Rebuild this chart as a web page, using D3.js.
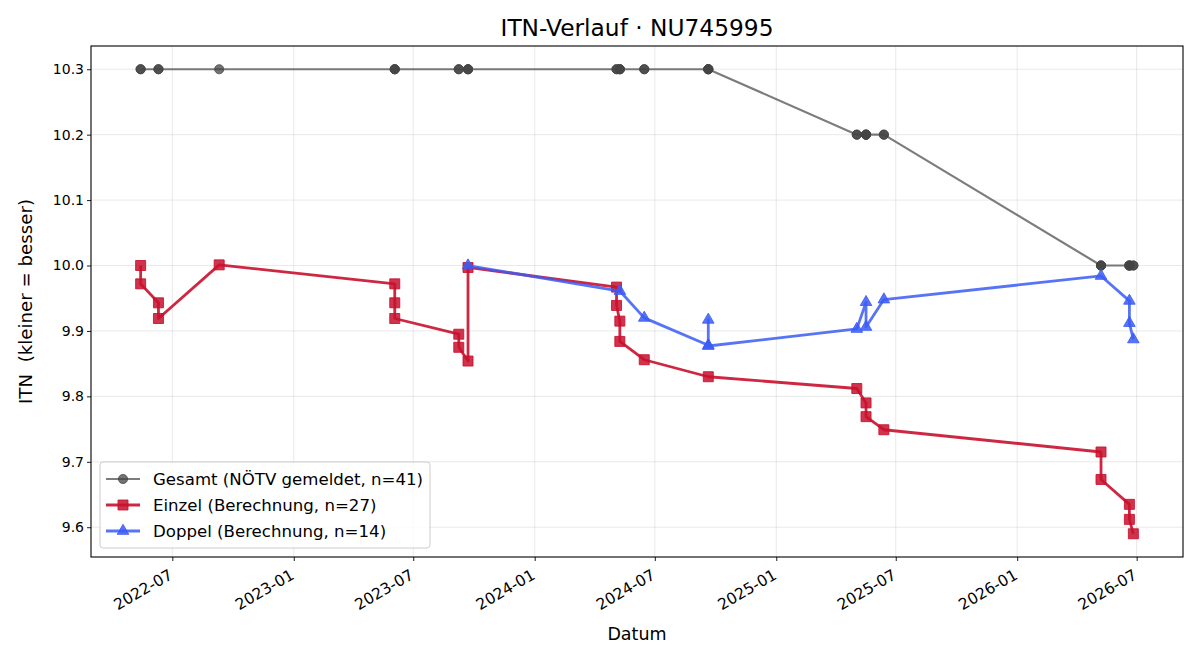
<!DOCTYPE html>
<html>
<head>
<meta charset="utf-8">
<style>
    body { margin: 0; background: #fff; }
    svg { font-family: 'DejaVu Sans', sans-serif; }
    .grid line { stroke: #b0b0b0; stroke-opacity: 0.35; stroke-width: 0.8; }
    .axis text { font-size: 14px; fill: #000; font-family: 'DejaVu Sans', sans-serif; }
    .x-axis text { font-size: 15.5px; }
</style>
</head>
<body>
<svg width="1200" height="660"></svg>

<script src="https://d3js.org/d3.v7.min.js"></script>
<script>
    // Gesamt-ITN (NÖTV gemeldet) je Datum
    let gesamtDaten = ["2022-05-14", "2022-06-10", "2022-09-10", "2023-06-03", "2023-09-08", "2023-09-22",
        "2024-05-04", "2024-05-09", "2024-06-15", "2024-09-20", "2025-05-03", "2025-05-17", "2025-06-13",
        "2026-05-08", "2026-06-20", "2026-06-26"];
    let gesamtWerte = [10.3, 10.3, 10.3, 10.3, 10.3, 10.3, 10.3, 10.3, 10.3, 10.3, 10.2, 10.2, 10.2, 10.0, 10.0, 10.0];

    // Einzel (Berechnung), ein Eintrag pro Match
    let einzelDaten = ["2022-05-14", "2022-05-14", "2022-06-10", "2022-06-10", "2022-09-10",
        "2023-06-03", "2023-06-03", "2023-06-03", "2023-09-08", "2023-09-08", "2023-09-22", "2023-09-22",
        "2024-05-04", "2024-05-04", "2024-05-09", "2024-05-09", "2024-06-15", "2024-09-20",
        "2025-05-03", "2025-05-17", "2025-05-17", "2025-06-13",
        "2026-05-08", "2026-05-08", "2026-06-20", "2026-06-20", "2026-06-26"];
    let einzelWerte = [10.0, 9.972, 9.943, 9.919, 10.001,
        9.972, 9.943, 9.919, 9.895, 9.875, 9.854, 9.997,
        9.967, 9.939, 9.915, 9.884, 9.856, 9.830,
        9.812, 9.790, 9.769, 9.749,
        9.715, 9.673, 9.635, 9.612, 9.590];

    // Doppel (Berechnung)
    let doppelDaten = ["2023-09-22", "2024-05-09", "2024-06-15", "2024-09-20", "2024-09-20", "2024-09-20",
        "2025-05-03", "2025-05-17", "2025-05-17", "2025-06-13",
        "2026-05-08", "2026-06-20", "2026-06-20", "2026-06-26"];
    let doppelWerte = [10.0, 9.961, 9.920, 9.878, 9.917, 9.877,
        9.903, 9.944, 9.906, 9.948,
        9.984, 9.946, 9.912, 9.887];

    let parse = d3.timeParse("%Y-%m-%d");

    let gesamt = gesamtDaten.map((d, i) => ({ date: parse(d), value: gesamtWerte[i] }));
    let einzel = einzelDaten.map((d, i) => ({ date: parse(d), value: einzelWerte[i] }));
    let doppel = doppelDaten.map((d, i) => ({ date: parse(d), value: doppelWerte[i] }));

    // one grey marker per match (Einzel + Doppel)
    let gesamtMap = new Map(gesamtDaten.map((d, i) => [d, gesamtWerte[i]]));
    let gesamtMarker = einzelDaten.concat(doppelDaten).map(d => ({ date: parse(d), value: gesamtMap.get(d) }));

    let margin = { left: 91, right: 17, top: 46, bottom: 103 };
    let width = 1200, height = 660;
    let svg = d3.select("svg");

    let all = gesamt.concat(einzel, doppel);
    let xExt = d3.extent(all, d => d.date);
    let xPad = (xExt[1] - xExt[0]) * 0.05;
    let x = d3.scaleTime()
        .domain([new Date(+xExt[0] - xPad), new Date(+xExt[1] + xPad)])
        .range([margin.left, width - margin.right]);

    let yExt = d3.extent(all, d => d.value);
    let yPad = (yExt[1] - yExt[0]) * 0.05;
    let y = d3.scaleLinear()
        .domain([yExt[0] - yPad, yExt[1] + yPad])
        .range([height - margin.bottom, margin.top]);

    let xTicks = d3.timeMonth.every(6).range(x.domain()[0], x.domain()[1]);
    let yTicks = [9.6, 9.7, 9.8, 9.9, 10.0, 10.1, 10.2, 10.3];

    // grid
    svg.append("g").attr("class", "grid")
        .selectAll("line").data(xTicks).join("line")
        .attr("x1", d => x(d)).attr("x2", d => x(d))
        .attr("y1", margin.top).attr("y2", height - margin.bottom);
    svg.append("g").attr("class", "grid")
        .selectAll("line").data(yTicks).join("line")
        .attr("x1", margin.left).attr("x2", width - margin.right)
        .attr("y1", d => y(d)).attr("y2", d => y(d));

    // axes
    let xAxis = svg.append("g").attr("class", "axis x-axis")
        .attr("transform", `translate(0,${height - margin.bottom})`)
        .call(d3.axisBottom(x).tickValues(xTicks).tickFormat(d3.timeFormat("%Y-%m")).tickSize(4).tickSizeOuter(0));
    xAxis.select(".domain").remove();
    xAxis.selectAll(".tick line").attr("stroke", "#000").attr("stroke-width", 0.9);
    xAxis.selectAll(".tick text")
        .attr("text-anchor", "end")
        .attr("dy", null)
        .attr("y", 0)
        .attr("transform", "translate(1,21) rotate(-30)");

    let yAxis = svg.append("g").attr("class", "axis")
        .attr("transform", `translate(${margin.left},0)`)
        .call(d3.axisLeft(y).tickValues(yTicks).tickFormat(d3.format(".1f")).tickSize(4).tickSizeOuter(0));
    yAxis.select(".domain").remove();
    yAxis.selectAll(".tick line").attr("stroke", "#000").attr("stroke-width", 0.9);
    yAxis.selectAll(".tick text").attr("x", -7);

    // frame
    svg.append("rect")
        .attr("x", margin.left).attr("y", margin.top)
        .attr("width", width - margin.left - margin.right)
        .attr("height", height - margin.top - margin.bottom)
        .attr("fill", "none").attr("stroke", "#000").attr("stroke-width", 1.1);

    let line = d3.line().x(d => x(d.date)).y(d => y(d.value));

    let series = [
        { name: "Gesamt (NÖTV gemeldet, n=41)", data: gesamt, marks: gesamtMarker, color: "#444444",
          lineColor: "#444444", lineOpacity: 0.7, markOpacity: 0.75, width: 2.2, symbol: d3.symbolCircle, size: 66 },
        { name: "Einzel (Berechnung, n=27)", data: einzel, marks: einzel, color: "#c8102e",
          lineColor: "#c8102e", lineOpacity: 0.9, markOpacity: 0.85, width: 2.8, symbol: d3.symbolSquare, size: 100 },
        { name: "Doppel (Berechnung, n=14)", data: doppel, marks: doppel, color: "#3b5cf5",
          lineColor: "#3b5cf5", lineOpacity: 0.85, markOpacity: 0.85, width: 2.8, symbol: d3.symbolTriangle, size: 58 }
    ];

    series.forEach(s => {
        let g = svg.append("g");
        g.append("path")
            .datum(s.data)
            .attr("d", line)
            .attr("fill", "none")
            .attr("stroke", s.lineColor)
            .attr("stroke-opacity", s.lineOpacity)
            .attr("stroke-width", s.width)
            .attr("stroke-linejoin", "round");
        g.selectAll("path.mark")
            .data(s.marks)
            .join("path")
            .attr("class", "mark")
            .attr("d", d3.symbol(s.symbol, s.size))
            .attr("transform", d => `translate(${x(d.date)},${y(d.value)})`)
            .attr("fill", s.color)
            .attr("fill-opacity", s.markOpacity)
            .attr("stroke", s.color)
            .attr("stroke-opacity", s.markOpacity)
            .attr("stroke-width", 1);
    });

    // legend
    let lg = svg.append("g").attr("transform", "translate(100,462)");
    lg.append("rect")
        .attr("width", 330).attr("height", 86).attr("rx", 3)
        .attr("fill", "#fff").attr("fill-opacity", 0.8)
        .attr("stroke", "#cccccc").attr("stroke-width", 1);
    series.forEach((s, i) => {
        let row = lg.append("g").attr("transform", `translate(0,${17 + i * 26})`);
        row.append("line")
            .attr("x1", 6).attr("x2", 40)
            .attr("stroke", s.lineColor).attr("stroke-opacity", s.lineOpacity).attr("stroke-width", s.width);
        row.append("path")
            .attr("d", d3.symbol(s.symbol, s.size))
            .attr("transform", "translate(23,0)")
            .attr("fill", s.color).attr("fill-opacity", s.markOpacity)
            .attr("stroke", s.color).attr("stroke-opacity", s.markOpacity);
        row.append("text")
            .attr("x", 53).attr("y", 6)
            .style("font-size", "16.6px")
            .text(s.name);
    });

    // titles
    svg.append("text")
        .attr("x", (margin.left + width - margin.right) / 2).attr("y", 36)
        .attr("text-anchor", "middle").style("font-size", "23.3px")
        .text("ITN-Verlauf · NU745995");
    svg.append("text")
        .attr("x", (margin.left + width - margin.right) / 2).attr("y", 640)
        .attr("text-anchor", "middle").style("font-size", "17.5px")
        .text("Datum");
    svg.append("text")
        .attr("transform", `translate(32,${(margin.top + height - margin.bottom) / 2}) rotate(-90)`)
        .attr("text-anchor", "middle").style("font-size", "18.2px")
        .style("white-space", "pre")
        .text("ITN  (kleiner = besser)");
</script>
</body>
</html>
